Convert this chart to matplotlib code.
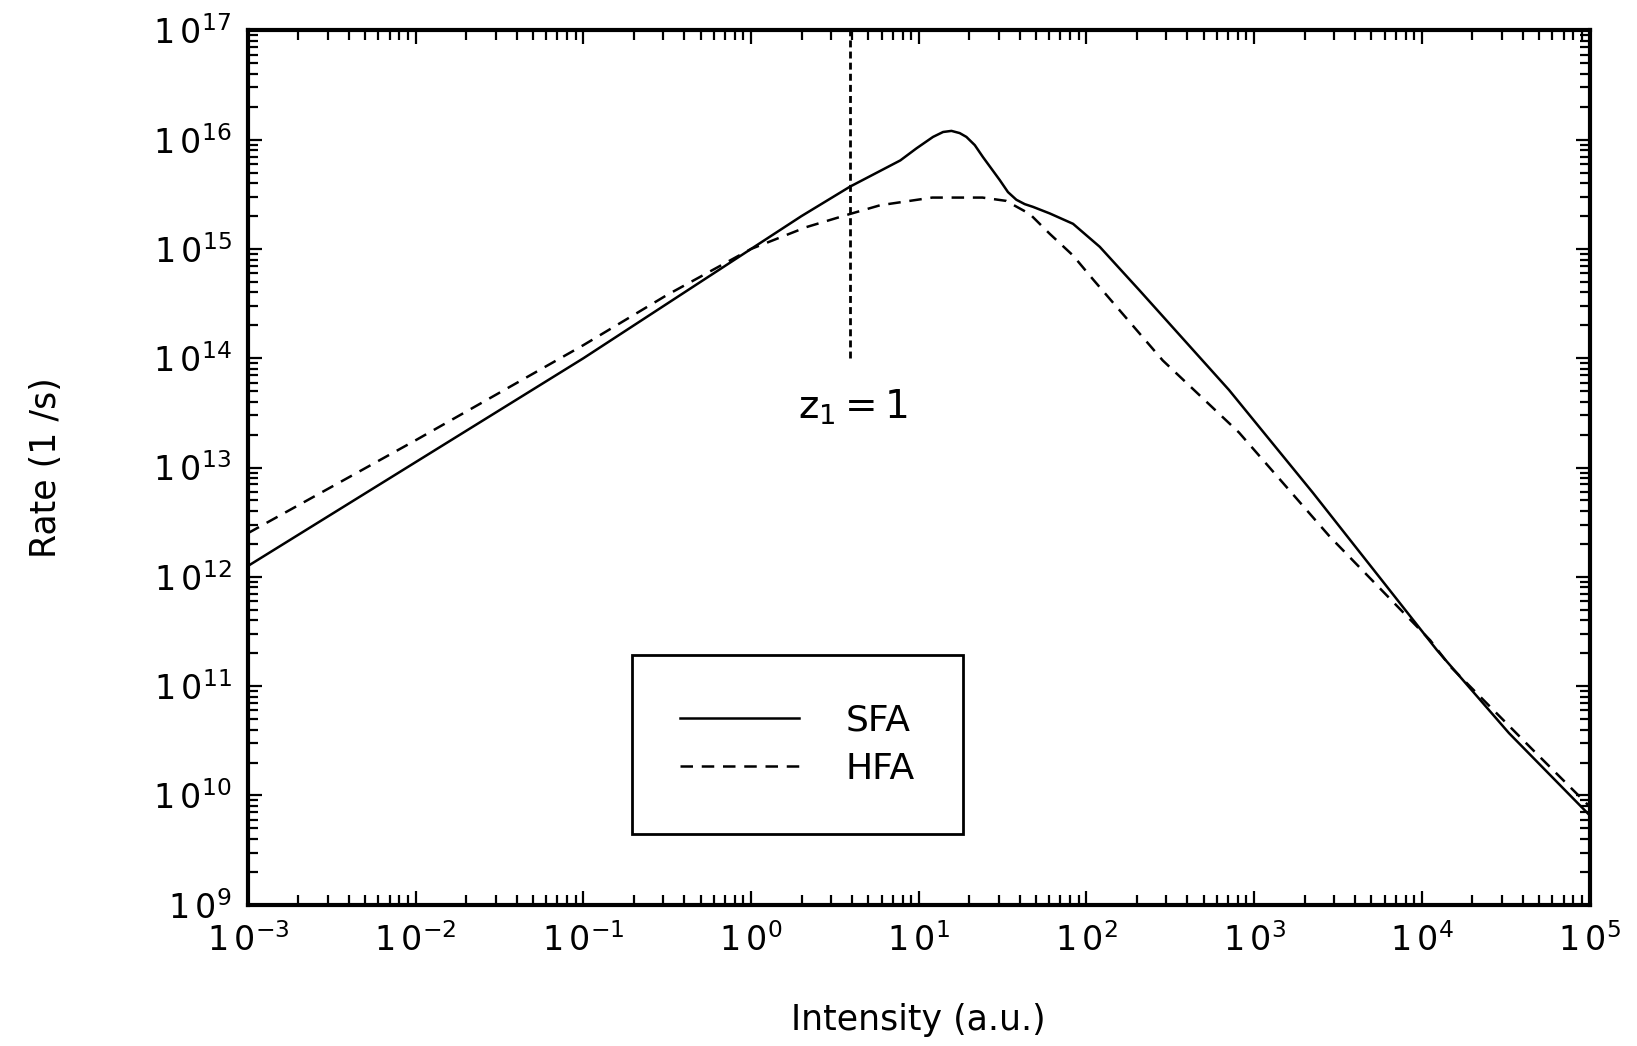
import numpy as np
import matplotlib
matplotlib.use("Agg")
import matplotlib.pyplot as plt
from matplotlib.patches import Rectangle
from matplotlib.ticker import FixedLocator, LogLocator, NullFormatter

# values, as log10 of intensity (a.u.) and rate (1/s)
sfa_log_intensity = [-3.0, -2.0, -1.0, -0.5, 0.0, 0.3, 0.59, 0.89, 0.986, 1.085,
                     1.145, 1.195, 1.244, 1.284, 1.334, 1.383, 1.483, 1.532,
                     1.582, 1.632, 1.681, 1.781, 1.92, 2.079, 2.317, 2.85,
                     3.35, 4.09, 4.52, 5.0]
sfa_log_rate = [12.10, 13.05, 14.00, 14.50, 15.00, 15.30, 15.57, 15.81, 15.92, 16.025,
                16.07, 16.08, 16.06, 16.025, 15.95, 15.84, 15.63, 15.52,
                15.45, 15.41, 15.385, 15.325, 15.23, 15.02, 14.62, 13.71,
                12.77, 11.33, 10.57, 9.82]

hfa_log_intensity = [-3.0, -2.0, -1.0, -0.5, 0.0, 0.33, 0.59, 0.77, 1.08, 1.38,
                     1.52, 1.662, 1.78, 1.92, 2.04, 2.455, 2.91, 3.45, 4.05,
                     4.17, 4.66, 5.0]
hfa_log_rate = [12.40, 13.25, 14.12, 14.58, 15.00, 15.20, 15.32, 15.40, 15.47, 15.47,
                15.44, 15.32, 15.14, 14.94, 14.72, 13.98, 13.32, 12.37, 11.42,
                11.18, 10.42, 9.90]

z1_intensity = 3.88
z1_rate_range = [1e14, 1e17]

x_decades = list(range(-3, 6))
y_decades = list(range(9, 18))

plt.rcParams["font.family"] = ["DejaVu Sans"]
plt.rcParams["mathtext.default"] = "regular"

fig = plt.figure(figsize=(16.37, 10.46), dpi=100)
ax = fig.add_axes([0.1515, 0.135, 0.8195, 0.836])

ax.plot(10.0 ** np.array(sfa_log_intensity), 10.0 ** np.array(sfa_log_rate),
        color="black", lw=1.8, label="SFA")
ax.plot(10.0 ** np.array(hfa_log_intensity), 10.0 ** np.array(hfa_log_rate),
        color="black", lw=1.8, ls=(0, (5, 3.5)), label="HFA")
ax.plot([z1_intensity, z1_intensity], z1_rate_range, color="black",
        lw=2.0, ls=(0, (2.5, 1.5)))
ax.text(z1_intensity * 1.05, 10 ** 13.55, r"$z_1=1$", fontsize=28,
        ha="center", va="center")

ax.set_xscale("log")
ax.set_yscale("log")
ax.set_xlim(1e-3, 1e5)
ax.set_ylim(1e9, 1e17)

# the old plotting font spaces the digits widely
ax.xaxis.set_major_locator(FixedLocator([10.0 ** d for d in x_decades]))
ax.set_xticklabels([r"$1\,0^{%d}$" % d for d in x_decades])
ax.yaxis.set_major_locator(FixedLocator([10.0 ** d for d in y_decades]))
ax.set_yticklabels([r"$1\,0^{%d}$" % d for d in y_decades])
for axis in (ax.xaxis, ax.yaxis):
    axis.set_minor_locator(LogLocator(base=10, subs=np.arange(2, 10), numticks=20))
    axis.set_minor_formatter(NullFormatter())

ax.tick_params(which="both", direction="in", top=True, right=True, width=1.6)
ax.tick_params(which="major", length=10)
ax.tick_params(which="minor", length=7)
ax.tick_params(axis="x", which="major", labelsize=24, pad=13)
ax.tick_params(axis="y", which="major", labelsize=24, pad=12)
for s in ax.spines.values():
    s.set_linewidth(3.0)

ax.set_xlabel("Intensity (a.u.)", fontsize=25)
ax.set_ylabel("Rate (1 /s)", fontsize=25)
ax.xaxis.set_label_coords(0.5, -0.112)
ax.yaxis.set_label_coords(-0.138, 0.5)

ax.add_patch(Rectangle((0.286, 0.081), 0.247, 0.205, transform=ax.transAxes,
                       fill=False, ec="black", lw=2.0, zorder=5))
ax.legend(loc="center", bbox_to_anchor=(0.4095, 0.1834), frameon=False,
          fontsize=26, handlelength=3.3, handletextpad=1.3, labelspacing=0.4,
          borderpad=0)

fig.savefig("out.png", dpi=100)
